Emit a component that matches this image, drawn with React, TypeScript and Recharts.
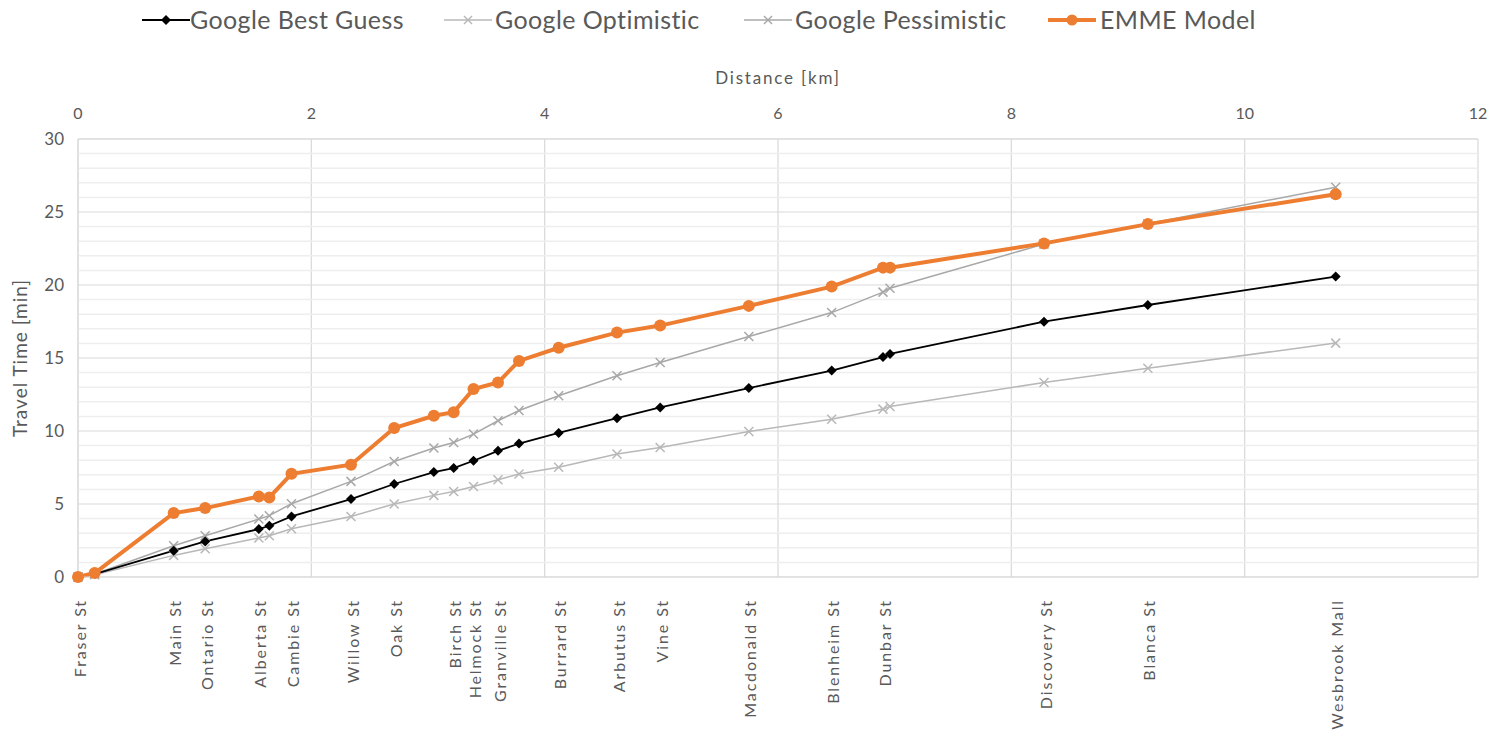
import React from 'react';
import { LineChart, Line, XAxis, YAxis, CartesianGrid, ReferenceLine } from 'recharts';

// Distance along route [km] for each station point
const distances = [0, 0.143, 0.82, 1.09, 1.55, 1.64, 1.83, 2.34, 2.71, 3.05, 3.22, 3.39, 3.6, 3.78, 4.12, 4.62, 4.99, 5.75, 6.46, 6.9, 6.96, 8.28, 9.17, 10.78];
// Travel time [min]
const bestGuess = [0, 0.2, 1.8, 2.44, 3.28, 3.51, 4.15, 5.34, 6.37, 7.19, 7.46, 7.96, 8.64, 9.14, 9.87, 10.88, 11.61, 12.94, 14.14, 15.06, 15.28, 17.49, 18.63, 20.58];
const optimistic = [0, 0.15, 1.48, 1.94, 2.67, 2.83, 3.31, 4.15, 5.0, 5.59, 5.86, 6.2, 6.66, 7.05, 7.52, 8.42, 8.87, 9.97, 10.81, 11.5, 11.68, 13.32, 14.3, 16.02];
const pessimistic = [0, 0.2, 2.14, 2.83, 3.97, 4.2, 5.02, 6.55, 7.91, 8.83, 9.21, 9.79, 10.7, 11.4, 12.41, 13.78, 14.69, 16.47, 18.11, 19.51, 19.78, 22.8, 24.2, 26.7];
const emme = [0, 0.27, 4.38, 4.72, 5.52, 5.45, 7.07, 7.69, 10.2, 11.04, 11.29, 12.87, 13.32, 14.8, 15.7, 16.74, 17.22, 18.57, 19.89, 21.19, 21.19, 22.85, 24.17, 26.22];

// Street labels on the bottom axis
const streetNames = ['Fraser St', 'Main St', 'Ontario St', 'Alberta St', 'Cambie St', 'Willow St', 'Oak St', 'Birch St', 'Helmock St', 'Granville St', 'Burrard St', 'Arbutus St', 'Vine St', 'Macdonald St', 'Blenheim St', 'Dunbar St', 'Discovery St', 'Blanca St', 'Wesbrook Mall'];
const streetDistances = [0, 0.82, 1.09, 1.55, 1.83, 2.34, 2.71, 3.22, 3.39, 3.6, 4.12, 4.62, 4.99, 5.75, 6.46, 6.9, 8.28, 9.17, 10.78];

const distanceTicks = [0, 2, 4, 6, 8, 10, 12];
const timeTicks = [0, 5, 10, 15, 20, 25, 30];
const minorTimeLines = [1, 2, 3, 4, 6, 7, 8, 9, 11, 12, 13, 14, 16, 17, 18, 19, 21, 22, 23, 24, 26, 27, 28, 29];

const data = distances.map((d, i) => ({
  d,
  best: bestGuess[i],
  opt: optimistic[i],
  pess: pessimistic[i],
  emme: emme[i],
}));

const FONT = 'Lato, "Open Sans", sans-serif';
const TEXT = '#595959';
const GRID = '#d9d9d9';
const MINOR = '#eeeeee';
const ORANGE = '#ED7D31';
const GREY_OPT = '#b8b8b8';
const GREY_PESS = '#a8a8a8';

const DiamondDot = (props: any) => {
  const { cx, cy, index } = props;
  if (cx == null || cy == null) return <g key={`dd${index}`} />;
  const r = 5;
  return (
    <polygon
      key={`dd${index}`}
      points={`${cx},${cy - r} ${cx + r},${cy} ${cx},${cy + r} ${cx - r},${cy}`}
      fill="#000"
    />
  );
};

const makeCross = (color: string, prefix: string) => (props: any) => {
  const { cx, cy, index } = props;
  if (cx == null || cy == null) return <g key={`${prefix}${index}`} />;
  const r = 4.5;
  return (
    <g key={`${prefix}${index}`} stroke={color} strokeWidth={1.5}>
      <line x1={cx - r} y1={cy - r} x2={cx + r} y2={cy + r} />
      <line x1={cx - r} y1={cy + r} x2={cx + r} y2={cy - r} />
    </g>
  );
};

const CircleDot = (props: any) => {
  const { cx, cy, index } = props;
  if (cx == null || cy == null) return <g key={`cd${index}`} />;
  return <circle key={`cd${index}`} cx={cx} cy={cy} r={6} fill={ORANGE} />;
};

const StreetTick = (props: any) => {
  const { x, y, payload } = props;
  const i = streetDistances.findIndex((v) => Math.abs(v - payload.value) < 1e-6);
  const name = i >= 0 ? streetNames[i] : '';
  return (
    <text
      transform={`translate(${x + 1},${y + 20}) rotate(-90)`}
      textAnchor="end"
      dominantBaseline="central"
      fill={TEXT}
      fontFamily={FONT}
      fontSize={16}
      letterSpacing={1.9}
    >
      {name}
    </text>
  );
};

const legendItems = [
  { label: 'Google Best Guess', kind: 'diamond', color: '#000', left: 142, textLeft: 190, w: 2 },
  { label: 'Google Optimistic', kind: 'cross', color: GREY_OPT, left: 444, textLeft: 495, w: 1.5 },
  { label: 'Google Pessimistic', kind: 'cross', color: GREY_PESS, left: 744, textLeft: 795, w: 1.5 },
  { label: 'EMME Model', kind: 'circle', color: ORANGE, left: 1048, textLeft: 1100, w: 4 },
];

const LegendIcon = ({ kind, color, w }: any) => (
  <svg width={48} height={20} style={{ display: 'block' }}>
    <line x1={0} y1={10} x2={48} y2={10} stroke={color} strokeWidth={w} />
    {kind === 'diamond' && <polygon points="24,5 29,10 24,15 19,10" fill={color} />}
    {kind === 'cross' && (
      <g stroke={color} strokeWidth={1.5}>
        <line x1={20} y1={6} x2={28} y2={14} />
        <line x1={20} y1={14} x2={28} y2={6} />
      </g>
    )}
    {kind === 'circle' && <circle cx={24} cy={10} r={5.5} fill={color} />}
  </svg>
);

export default function App() {
  return (
    <div style={{ position: 'relative', width: 1500, height: 728, background: '#fff' }}>
      {legendItems.map((it) => (
        <React.Fragment key={it.label}>
          <div style={{ position: 'absolute', left: it.left - 8, top: 2 }}>
            <LegendIcon kind={it.kind} color={it.color} w={it.w} />
          </div>
          <div
            style={{
              position: 'absolute',
              left: it.textLeft - 8,
              top: -4,
              fontFamily: FONT,
              fontSize: 25,
              letterSpacing: 0.4,
              color: TEXT,
              whiteSpace: 'nowrap',
              lineHeight: '30px',
            }}
          >
            {it.label}
          </div>
        </React.Fragment>
      ))}
      <LineChart
        width={1500}
        height={728}
        data={data}
        margin={{ top: 60, right: 30, bottom: 9, left: 0 }}
      >
        <CartesianGrid xAxisId="top" stroke={GRID} strokeWidth={1.2} />
        {minorTimeLines.map((v) => (
          <ReferenceLine key={`m${v}`} xAxisId="top" y={v} stroke={MINOR} strokeWidth={1.5} />
        ))}
        <XAxis
          xAxisId="top"
          orientation="top"
          type="number"
          dataKey="d"
          domain={[0, 12]}
          ticks={distanceTicks}
          interval={0}
          height={71}
          tickSize={0}
          tickMargin={20}
          axisLine={{ stroke: GRID }}
          tick={{ fill: TEXT, fontFamily: FONT, fontSize: 16 }}
          label={{
            value: 'Distance [km]',
            position: 'insideTop',
            offset: 4,
            fill: TEXT,
            fontFamily: FONT,
            fontSize: 17,
            letterSpacing: 1.8,
          }}
        />
        <XAxis
          xAxisId="bottom"
          orientation="bottom"
          type="number"
          dataKey="d"
          domain={[0, 12]}
          ticks={streetDistances}
          interval={0}
          height={150}
          tickSize={0}
          axisLine={{ stroke: GRID }}
          tick={<StreetTick />}
        />
        <YAxis
          type="number"
          domain={[0, 30]}
          ticks={timeTicks}
          interval={0}
          width={70}
          tickSize={0}
          tickMargin={14}
          axisLine={{ stroke: GRID }}
          tick={{ fill: TEXT, fontFamily: FONT, fontSize: 17 }}
          label={{
            value: 'Travel Time [min]',
            angle: -90,
            position: 'insideLeft',
            offset: 12,
            fill: TEXT,
            fontFamily: FONT,
            fontSize: 19,
            letterSpacing: 1,
            style: { textAnchor: 'middle' },
          }}
        />
        <Line
          xAxisId="top"
          dataKey="opt"
          stroke={GREY_OPT}
          strokeWidth={1.5}
          dot={makeCross(GREY_OPT, 'co')}
          isAnimationActive={false}
        />
        <Line
          xAxisId="bottom"
          dataKey="pess"
          stroke={GREY_PESS}
          strokeWidth={1.5}
          dot={makeCross(GREY_PESS, 'cp')}
          isAnimationActive={false}
        />
        <Line
          xAxisId="top"
          dataKey="best"
          stroke="#000"
          strokeWidth={1.8}
          dot={DiamondDot}
          isAnimationActive={false}
        />
        <Line
          xAxisId="bottom"
          dataKey="emme"
          stroke={ORANGE}
          strokeWidth={4}
          dot={CircleDot}
          isAnimationActive={false}
        />
      </LineChart>
    </div>
  );
}
